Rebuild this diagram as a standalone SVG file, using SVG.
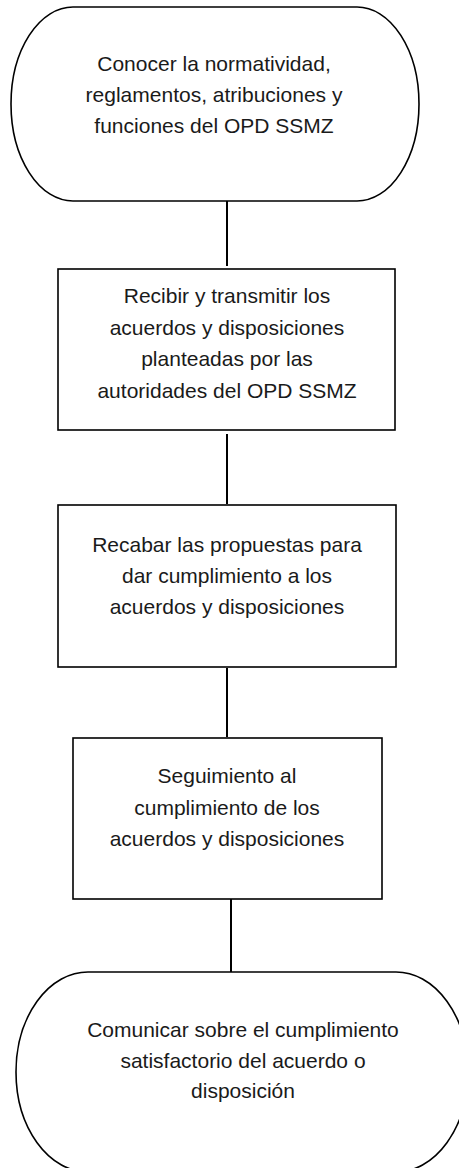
<svg xmlns="http://www.w3.org/2000/svg" width="459" height="1168" viewBox="0 0 459 1168">
<defs>
<filter id="sh" x="-200%" y="-20%" width="500%" height="140%"><feGaussianBlur stdDeviation="1.6"/></filter>
</defs>
<style>
.shape{fill:#ffffff;stroke:#000000;stroke-width:1.6}
.t{font-family:"Liberation Sans",Arial,sans-serif;font-size:21px;fill:#1a1a1a;text-anchor:middle}
.ln{stroke:#000000;stroke-width:2;fill:none}
.lsh{stroke:#b8b8b8;stroke-width:3;fill:none;filter:url(#sh)}
</style>
<rect width="459" height="1168" fill="#ffffff"/>
<g id="connectors">
<line class="lsh" x1="229" y1="203" x2="229" y2="270"/>
<line class="ln" x1="227" y1="201" x2="227" y2="266"/>
<line class="lsh" x1="229" y1="434" x2="229" y2="508"/>
<line class="ln" x1="227" y1="434" x2="227" y2="504"/>
<line class="lsh" x1="229" y1="668" x2="229" y2="741"/>
<line class="ln" x1="227" y1="668" x2="227" y2="737"/>
<line class="lsh" x1="233" y1="900" x2="233" y2="976"/>
<line class="ln" x1="231" y1="899" x2="231" y2="972"/>
</g>
<g id="n1">
<rect class="shape" x="11" y="7" width="408" height="194" rx="62" ry="97"/>
<text class="t" x="214" y="71">Conocer la normatividad,</text>
<text class="t" x="214" y="102">reglamentos, atribuciones y</text>
<text class="t" x="214" y="133">funciones del OPD SSMZ</text>
</g>
<g id="n2">
<rect class="shape" x="58" y="269" width="337" height="161"/>
<text class="t" x="227" y="303">Recibir y transmitir los</text>
<text class="t" x="227" y="335">acuerdos y disposiciones</text>
<text class="t" x="227" y="366">planteadas por las</text>
<text class="t" x="227" y="398">autoridades del OPD SSMZ</text>
</g>
<g id="n3">
<rect class="shape" x="58" y="505" width="338" height="162"/>
<text class="t" x="227" y="552">Recabar las propuestas para</text>
<text class="t" x="227" y="583">dar cumplimiento a los</text>
<text class="t" x="227" y="614">acuerdos y disposiciones</text>
</g>
<g id="n4">
<rect class="shape" x="73" y="738" width="309" height="161"/>
<text class="t" x="227" y="783">Seguimiento al</text>
<text class="t" x="227" y="815">cumplimiento de los</text>
<text class="t" x="227" y="846">acuerdos y disposiciones</text>
</g>
<g id="n5">
<rect class="shape" x="16" y="972" width="452" height="200" rx="72" ry="100"/>
<text class="t" x="243" y="1037">Comunicar sobre el cumplimiento</text>
<text class="t" x="243" y="1068">satisfactorio del acuerdo o</text>
<text class="t" x="243" y="1098">disposición</text>
</g>
</svg>
